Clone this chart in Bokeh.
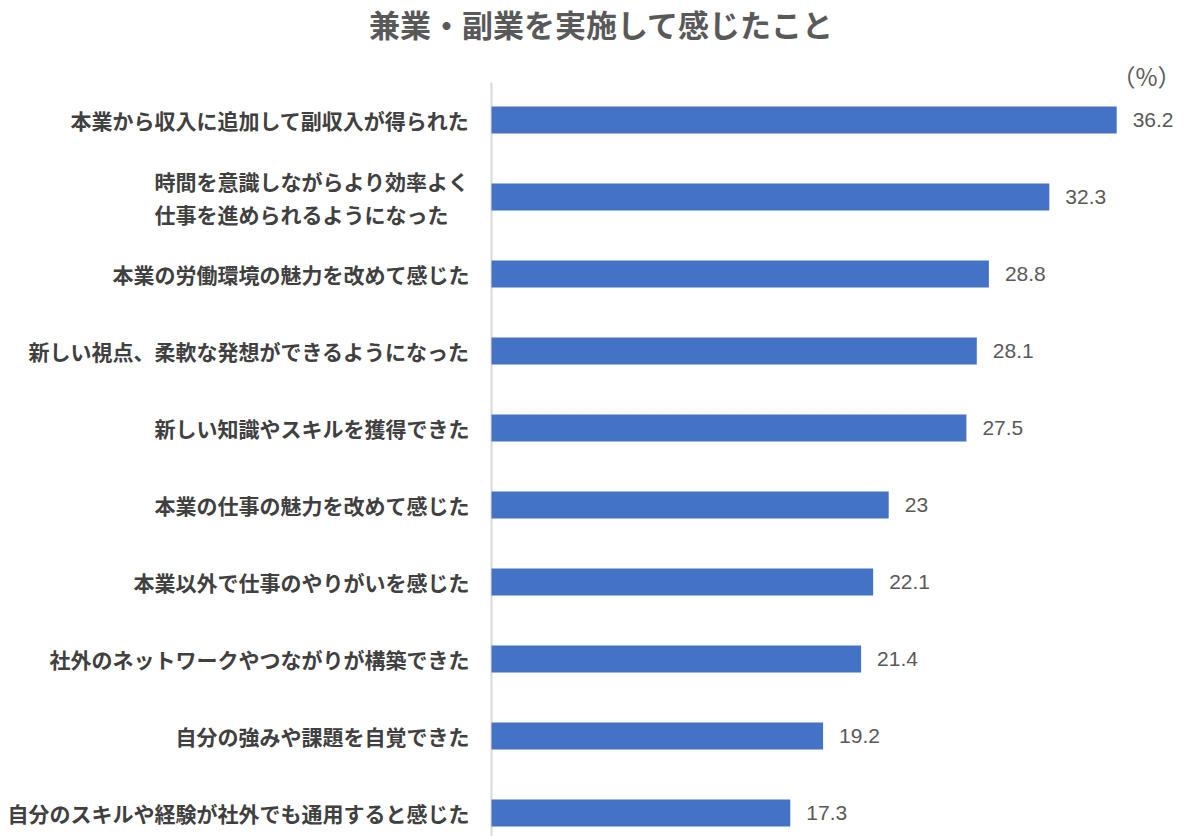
from bokeh.plotting import figure
from bokeh.models import Range1d, ColumnDataSource
from bokeh.core.properties import value
from bokeh.embed import file_html
from bokeh.resources import INLINE

title_text = "兼業・副業を実施して感じたこと"
categories = [
    "本業から収入に追加して副収入が得られた",
    "時間を意識しながらより効率よく\n仕事を進められるようになった\u3000",
    "本業の労働環境の魅力を改めて感じた",
    "新しい視点、柔軟な発想ができるようになった",
    "新しい知識やスキルを獲得できた",
    "本業の仕事の魅力を改めて感じた",
    "本業以外で仕事のやりがいを感じた",
    "社外のネットワークやつながりが構築できた",
    "自分の強みや課題を自覚できた",
    "自分のスキルや経験が社外でも通用すると感じた",
]
values = [36.2, 32.3, 28.8, 28.1, 27.5, 23, 22.1, 21.4, 19.2, 17.3]
value_labels = ["36.2", "32.3", "28.8", "28.1", "27.5", "23", "22.1", "21.4", "19.2", "17.3"]
unit_label = "（%）"

# layout constants (pixels)
W, H = 1200, 836
ORIGIN_PX = 491       # x pixel of value 0
PX_PER_UNIT = 17.27
FIRST_ROW_PX = 119.5  # y pixel of first bar centre
ROW_PX = 77
AXIS_TOP_PX = 82

def x_at(px):
    return (px - ORIGIN_PX) / PX_PER_UNIT

def y_at(py):
    return (py - FIRST_ROW_PX) / ROW_PX

idx = list(range(len(values)))
src = ColumnDataSource(dict(y=idx, v=values, lab=value_labels, cat=categories))

p = figure(width=W, height=H, output_backend="svg", toolbar_location=None,
           x_range=Range1d(x_at(0), x_at(W)), y_range=Range1d(y_at(H), y_at(0)),
           x_axis_location=None, y_axis_location=None,
           min_border_left=0, min_border_top=0, min_border_right=0, min_border_bottom=0)
p.outline_line_color = None
p.grid.visible = False
p.background_fill_color = "white"
p.border_fill_color = "white"

# vertical category axis line
p.segment(x0=[0], y0=[y_at(AXIS_TOP_PX)], x1=[0], y1=[y_at(H)],
          line_color="#D9D9D9", line_width=2)

p.hbar(y="y", left=0, right="v", height=27 / ROW_PX, source=src,
       fill_color="#4472C4", line_color=None)

# category labels
p.text(x=0, y="y", text="cat", source=src, x_offset=-22,
       text_align="right", text_baseline="middle",
       text_font=value("Noto Sans CJK JP"), text_font_style="bold",
       text_font_size="21px", text_color="#404040", text_line_height=1.1)

# value labels
p.text(x="v", y="y", text="lab", source=src, x_offset=16,
       text_align="left", text_baseline="middle",
       text_font=value("Liberation Sans"), text_font_size="21px",
       text_color="#595959")

# title
p.text(x=[x_at(601)], y=[y_at(23)], text=[title_text],
       text_align="center", text_baseline="middle",
       text_font=value("Noto Sans CJK JP"), text_font_style="bold",
       text_font_size="31px", text_color="#595959")

# unit
p.text(x=[x_at(1146)], y=[y_at(75)], text=[unit_label],
       text_align="center", text_baseline="middle",
       text_font=value("Noto Sans CJK JP"), text_font_size="24px",
       text_color="#595959")

open("out.html", "w").write(file_html(p, INLINE))
